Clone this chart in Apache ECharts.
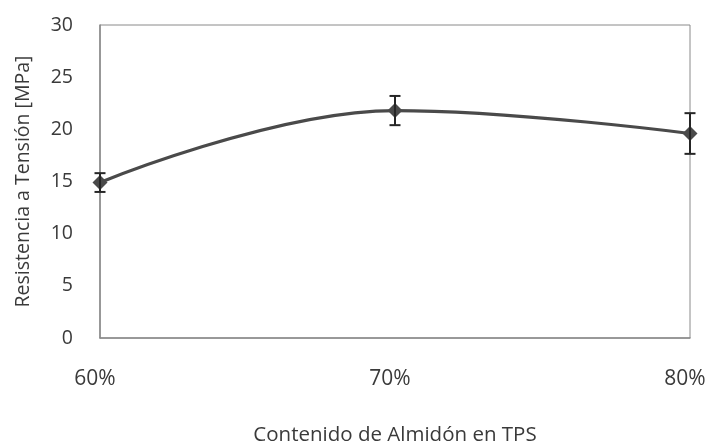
<!DOCTYPE html>
<html>
<head>
<meta charset="utf-8">
<script src="https://cdn.jsdelivr.net/npm/echarts@6/dist/echarts.min.js"></script>
<style>
  html, body { margin: 0; padding: 0; background: #fff; }
  #chart { width: 707px; height: 444px; }
</style>
</head>
<body>
<div id="chart"></div>
<script>
const contenido = [60, 70, 80];
const resistencia = [14.9, 21.8, 19.6];
const errores = [0.9, 1.4, 1.95];
const yTicks = [0, 5, 10, 15, 20, 25, 30];

const chart = echarts.init(document.getElementById('chart'), null, { renderer: 'canvas' });
const FONT = 'Open Sans';
const TXT = '#3a3a3a';

const lineData = contenido.map((c, i) => [c, resistencia[i]]);
const errData = contenido.map((c, i) => [c, resistencia[i] - errores[i], resistencia[i] + errores[i]]);

chart.setOption({
  animation: false,
  grid: { left: 100, right: 17, top: 25, bottom: 106, show: true, borderColor: '#8a8a8a', borderWidth: 1,
          containLabel: false, outerBoundsMode: 'none' },
  xAxis: {
    type: 'value', min: 60, max: 80, interval: 10,
    name: 'Contenido de Almidón en TPS', nameLocation: 'middle', nameGap: 87,
    nameTextStyle: { fontFamily: FONT, fontSize: 20.5, color: TXT },
    axisLine: { show: true, lineStyle: { color: '#8a8a8a', width: 1.5 } },
    axisTick: { show: false },
    splitLine: { show: false },
    axisLabel: { margin: 31, padding: [0, 10, 0, 0], fontFamily: FONT, fontSize: 21, color: TXT, formatter: v => v + '%' }
  },
  yAxis: {
    type: 'value', min: yTicks[0], max: yTicks[yTicks.length - 1], interval: 5,
    name: 'Resistencia a Tensión [MPa]', nameLocation: 'middle', nameGap: 67,
    nameTextStyle: { fontFamily: FONT, fontSize: 19.5, color: TXT },
    axisLine: { show: true, lineStyle: { color: '#8a8a8a', width: 1.5 } },
    axisTick: { show: false },
    splitLine: { show: false },
    axisLabel: { margin: 27, fontFamily: FONT, fontSize: 19.5, color: TXT }
  },
  series: [
    {
      type: 'line', data: lineData, smooth: 0.4,
      symbol: 'diamond', symbolSize: 15,
      lineStyle: { color: '#4a4a4a', width: 3.2 },
      itemStyle: { color: '#4a4a4a' },
      z: 3
    },
    {
      type: 'custom', data: errData, z: 4,
      renderItem: function (params, api) {
        const x = api.value(0);
        const lo = api.coord([x, api.value(1)]);
        const hi = api.coord([x, api.value(2)]);
        const w = 5.5;
        const style = { stroke: '#262626', lineWidth: 2 };
        return {
          type: 'group',
          children: [
            { type: 'line', shape: { x1: lo[0], y1: lo[1], x2: hi[0], y2: hi[1] }, style },
            { type: 'line', shape: { x1: lo[0] - w, y1: lo[1], x2: lo[0] + w, y2: lo[1] }, style },
            { type: 'line', shape: { x1: hi[0] - w, y1: hi[1], x2: hi[0] + w, y2: hi[1] }, style }
          ]
        };
      }
    }
  ]
});
</script>
</body>
</html>
